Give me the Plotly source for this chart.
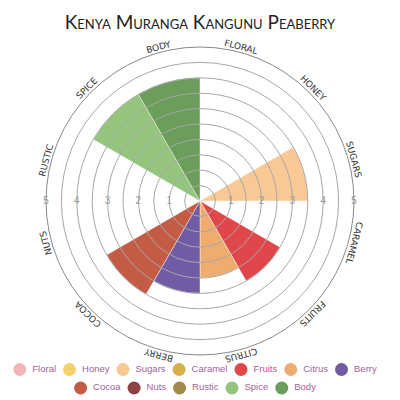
import math
import plotly.graph_objects as go

# ---------------- data ----------------
title_text = "Kenya Muranga Kangunu Peaberry"
categories = ["Floral", "Honey", "Sugars", "Caramel", "Fruits", "Citrus",
              "Berry", "Cocoa", "Nuts", "Rustic", "Spice", "Body"]
values = [0, 0, 3.5, 0, 3, 2.5, 3, 3.5, 0, 0, 4, 4]
colors = ["#f2b6b6", "#f3d26e", "#f8c995", "#d4af4a", "#e0474b", "#eead6e",
          "#6f5ca4", "#c45b45", "#8e4242", "#a3894b", "#94c47e", "#6a9e5a"]
ring_values = [0.5, 1, 1.5, 2, 2.5, 3, 3.5, 4, 4.5, 5]
tick_values = [1, 2, 3, 4, 5]
r_max = 5

# ---------------- geometry (pixels) ----------------
W = H = 400
CX, CY, RPX = 200, 201, 154          # polar centre / radius in px
dom_x = [(CX - RPX) / W, (CX + RPX) / W]
dom_y = [(H - CY - RPX) / H, (H - CY + RPX) / H]

fig = go.Figure()

# bars
fig.add_trace(go.Barpolar(
    r=values, theta=categories, subplot="polar",
    marker=dict(color=colors, line=dict(color="rgba(255,255,255,0.55)", width=0.8)),
    showlegend=False, hoverinfo="theta+r",
))

# radial tick labels on both sides (overlay subplot, numeric angles)
lab_r = tick_values + tick_values
lab_t = [0] * len(tick_values) + [180] * len(tick_values)
fig.add_trace(go.Scatterpolar(
    r=lab_r, theta=lab_t, subplot="polar2", mode="text",
    text=[str(v) for v in lab_r],
    textfont=dict(family="Liberation Sans", size=10, color="#9a9a9a"),
    showlegend=False, hoverinfo="skip",
))

# ---------------- manual legend (circles + labels) ----------------
AW = {"F": .611, "l": .222, "o": .556, "r": .333, "a": .556, "H": .722, "n": .556,
      "e": .556, "y": .5, "S": .667, "u": .556, "g": .556, "s": .5, "C": .722,
      "m": .833, "i": .222, "t": .278, "B": .667, "c": .5, "N": .722, "R": .722,
      "p": .556, "d": .556}
LEG_FS = 9.5


def tw(s):
    return sum(AW.get(ch, .55) for ch in s) * LEG_FS


rows = [categories[:7], categories[7:]]
row_y = [30.5, 12]
mx, my, mc, tx, ty, tt = [], [], [], [], [], []
for row, yv in zip(rows, row_y):
    x = 0.0
    pos = []
    for name in row:
        c = x + 6.5
        t0 = c + 12.5
        pos.append((c, t0))
        x = t0 + tw(name) + 7
    total = x - 7
    off = 195 - total / 2
    for name, (c, t0) in zip(row, pos):
        mx.append(c + off); my.append(yv); mc.append(colors[categories.index(name)])
        tx.append(t0 + off); ty.append(yv); tt.append(name)

fig.add_trace(go.Scatter(x=mx, y=my, mode="markers",
                         marker=dict(size=13, color=mc, line=dict(width=0)),
                         showlegend=False, hoverinfo="skip", xaxis="x", yaxis="y"))
fig.add_trace(go.Scatter(x=tx, y=ty, mode="text", text=tt, textposition="middle right",
                         textfont=dict(family="Liberation Sans", size=LEG_FS, color="#a25f96"),
                         showlegend=False, hoverinfo="skip", xaxis="x", yaxis="y"))

# ---------------- angular labels as rotated annotations ----------------
annotations = []
LAB_R = 159.5
n = len(categories)
for i, name in enumerate(categories):
    phi = (i + 0.5) * 360 / n        # clockwise from top
    px = CX + LAB_R * math.sin(math.radians(phi))
    py = CY - LAB_R * math.cos(math.radians(phi))
    ang = phi if phi <= 180 else phi - 360
    annotations.append(dict(
        x=px / W, y=(H - py) / H, xref="paper", yref="paper",
        text=name.upper(), showarrow=False, textangle=ang,
        xanchor="center", yanchor="middle",
        font=dict(family="DejaVu Sans", size=9, color="#333333"),
    ))

fig.update_layout(
    width=W, height=H,
    margin=dict(l=0, r=0, t=0, b=0),
    paper_bgcolor="white", plot_bgcolor="white",
    title=dict(text=title_text, x=0.5, xanchor="center", y=1 - 22 / H, yanchor="middle",
               font=dict(family="Lato", size=19, color="#222222", variant="small-caps")),
    polar=dict(
        domain=dict(x=dom_x, y=dom_y), bargap=0, bgcolor="white",
        angularaxis=dict(rotation=75, direction="clockwise", categoryorder="array",
                         categoryarray=categories, showticklabels=False, showgrid=False,
                         showline=False, ticks=""),
        radialaxis=dict(range=[0, r_max], visible=False),
    ),
    polar2=dict(
        domain=dict(x=dom_x, y=dom_y), bgcolor="rgba(0,0,0,0)",
        angularaxis=dict(showticklabels=False, showgrid=False, showline=True,
                         linecolor="#888888", linewidth=1, ticks=""),
        radialaxis=dict(range=[0, r_max], tickvals=ring_values, showticklabels=False,
                        showgrid=True, gridcolor="#a8a8a8", gridwidth=0.8,
                        showline=False, ticks=""),
    ),
    xaxis=dict(domain=[0, 1], range=[0, W], visible=False, fixedrange=True),
    yaxis=dict(domain=[0, 40 / H], range=[0, 40], visible=False, fixedrange=True),
    annotations=annotations,
    showlegend=False,
)

fig.write_html("out.html")
